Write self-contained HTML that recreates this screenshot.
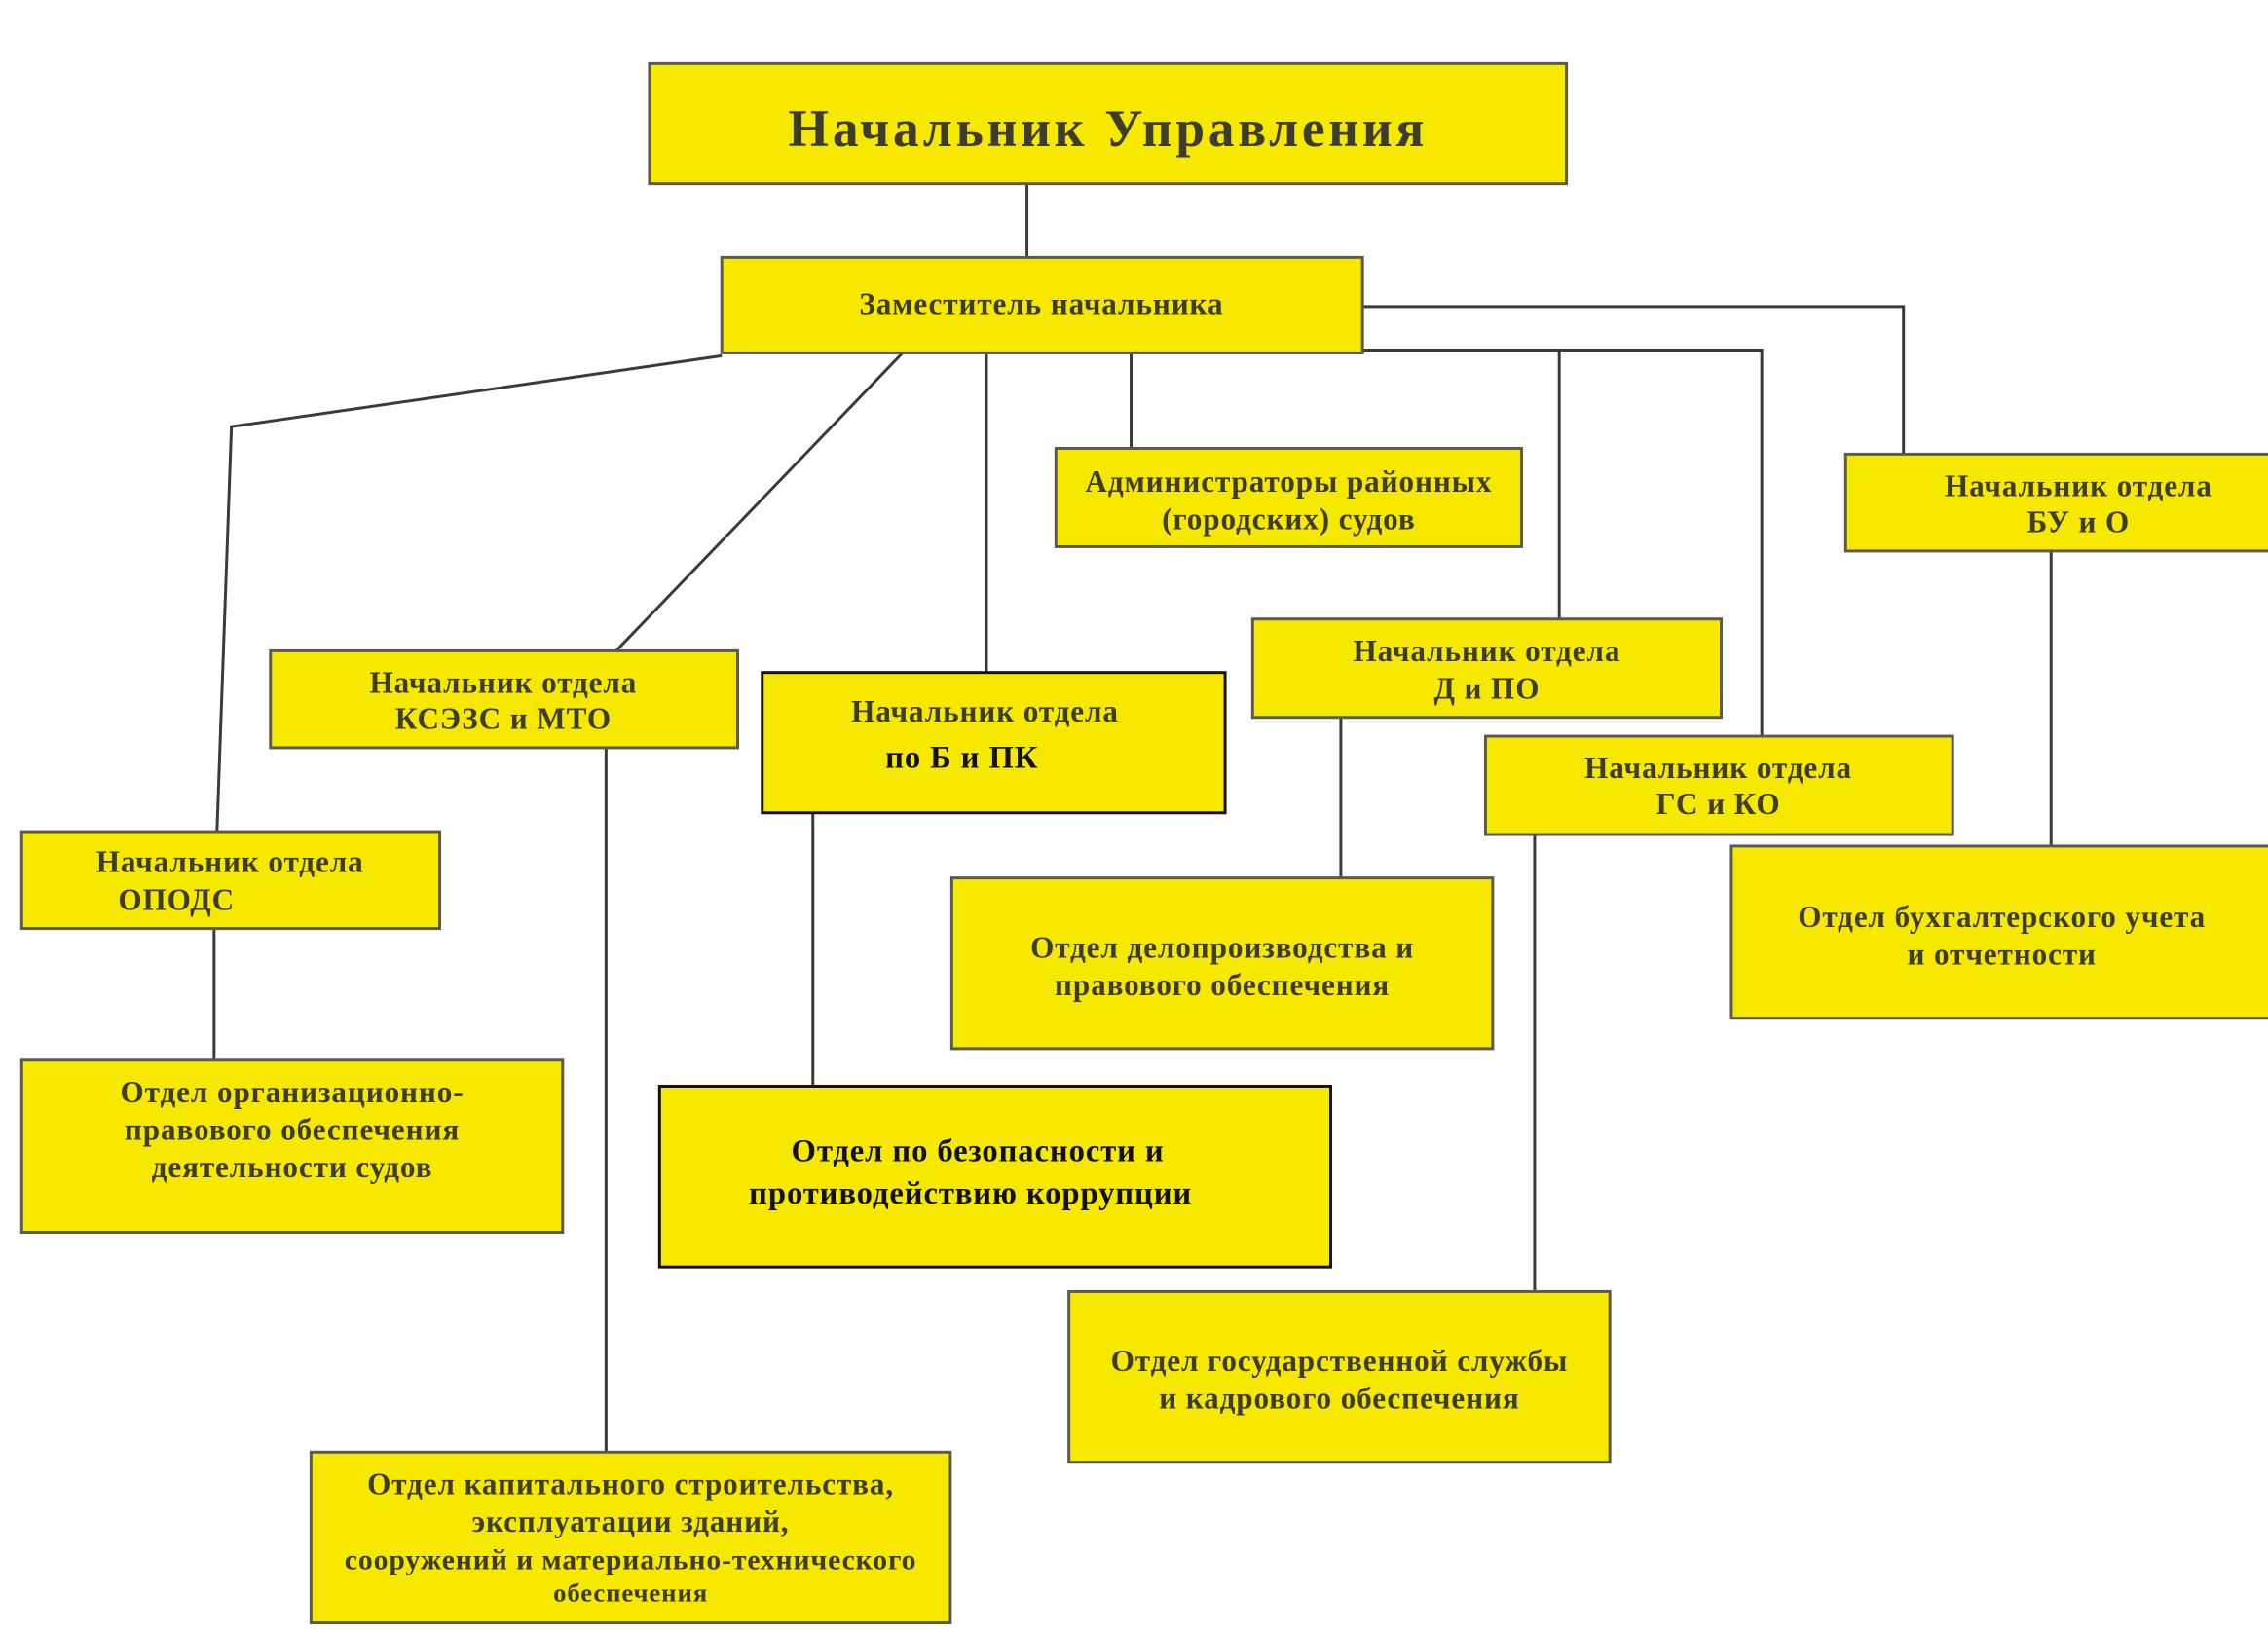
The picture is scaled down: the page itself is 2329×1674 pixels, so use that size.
<!DOCTYPE html>
<html><head><meta charset="utf-8"><style>
html,body{margin:0;padding:0;background:#fff;}
svg{display:block;}
text{font-family:"Liberation Serif",serif;font-weight:bold;fill:#3d3d2e;text-anchor:middle;letter-spacing:0.6px;}
rect{fill:#f7e800;stroke:#5a5a50;stroke-width:2;}
line,polyline{stroke:#3a3a3a;stroke-width:2;fill:none;}
</style></head><body>
<svg width="2329" height="1674" viewBox="0 0 1568 1127" preserveAspectRatio="none" xmlns="http://www.w3.org/2000/svg">
<rect x="0" y="0" width="1568" height="1127" style="fill:#fff;stroke:none"/>
<line x1="710" y1="127" x2="710" y2="178"/>
<polyline points="499,246 160,295 150,575"/>
<line x1="624" y1="244" x2="426" y2="450"/>
<line x1="682" y1="244" x2="682" y2="465"/>
<line x1="782" y1="244" x2="782" y2="310"/>
<polyline points="942,242 1218,242 1218,509"/>
<line x1="1078" y1="242" x2="1078" y2="428"/>
<polyline points="942,212 1316,212 1316,314"/>
<line x1="1418" y1="381" x2="1418" y2="585"/>
<line x1="927" y1="496" x2="927" y2="607"/>
<line x1="419" y1="517" x2="419" y2="1004"/>
<line x1="562" y1="562" x2="562" y2="751"/>
<line x1="1061" y1="577" x2="1061" y2="893"/>
<line x1="148" y1="642" x2="148" y2="733"/>
<rect x="449" y="44" width="634" height="83"/>
<text x="766" y="101" font-size="36" style="letter-spacing:2.5px">Начальник Управления</text>
<rect x="499" y="178" width="443" height="66"/>
<text x="720" y="217" font-size="21">Заместитель начальника</text>
<rect x="730" y="310" width="322" height="68"/>
<text x="891" y="340" font-size="21">Администраторы районных</text>
<text x="891" y="366" font-size="21">(городских) судов</text>
<rect x="1276" y="314" width="300" height="67"/>
<text x="1437" y="343" font-size="21">Начальник отдела</text>
<text x="1437" y="368" font-size="21">БУ и О</text>
<rect x="866" y="428" width="324" height="68"/>
<text x="1028" y="457" font-size="21">Начальник отдела</text>
<text x="1028" y="483" font-size="21">Д и ПО</text>
<rect x="187" y="450" width="323" height="67"/>
<text x="348" y="479" font-size="21">Начальник отдела</text>
<text x="348" y="504" font-size="21">КСЭЗС и МТО</text>
<rect x="527" y="465" width="320" height="97" style="stroke:#111"/>
<text x="681" y="499" font-size="21">Начальник отдела</text>
<text x="665" y="531" font-size="22" style="fill:#111">по Б и ПК</text>
<rect x="1027" y="509" width="323" height="68"/>
<text x="1188" y="538" font-size="21">Начальник отдела</text>
<text x="1188" y="563" font-size="21">ГС и КО</text>
<rect x="15" y="575" width="289" height="67"/>
<text x="159" y="603" font-size="21">Начальник отдела</text>
<text x="122" y="629" font-size="21">ОПОДС</text>
<rect x="1197" y="585" width="380" height="119"/>
<text x="1384" y="641" font-size="21">Отдел бухгалтерского учета</text>
<text x="1384" y="667" font-size="21">и отчетности</text>
<rect x="658" y="607" width="374" height="118"/>
<text x="845" y="662" font-size="21">Отдел делопроизводства и</text>
<text x="845" y="688" font-size="21">правового обеспечения</text>
<rect x="15" y="733" width="374" height="119"/>
<text x="202" y="762" font-size="21">Отдел организационно-</text>
<text x="202" y="788" font-size="21">правового обеспечения</text>
<text x="202" y="814" font-size="21">деятельности судов</text>
<rect x="456" y="751" width="464" height="125" style="stroke:#111"/>
<text x="676" y="803" font-size="22" style="fill:#111">Отдел по безопасности и</text>
<text x="671" y="832" font-size="22" style="fill:#111">противодействию коррупции</text>
<rect x="739" y="893" width="374" height="118"/>
<text x="926" y="948" font-size="21">Отдел государственной службы</text>
<text x="926" y="974" font-size="21">и кадрового обеспечения</text>
<rect x="215" y="1004" width="442" height="118"/>
<text x="436" y="1033" font-size="21">Отдел капитального строительства,</text>
<text x="436" y="1059" font-size="21">эксплуатации зданий,</text>
<text x="436" y="1085" font-size="20">сооружений и материально-технического</text>
<text x="436" y="1107" font-size="18">обеспечения</text>
</svg>
</body></html>
